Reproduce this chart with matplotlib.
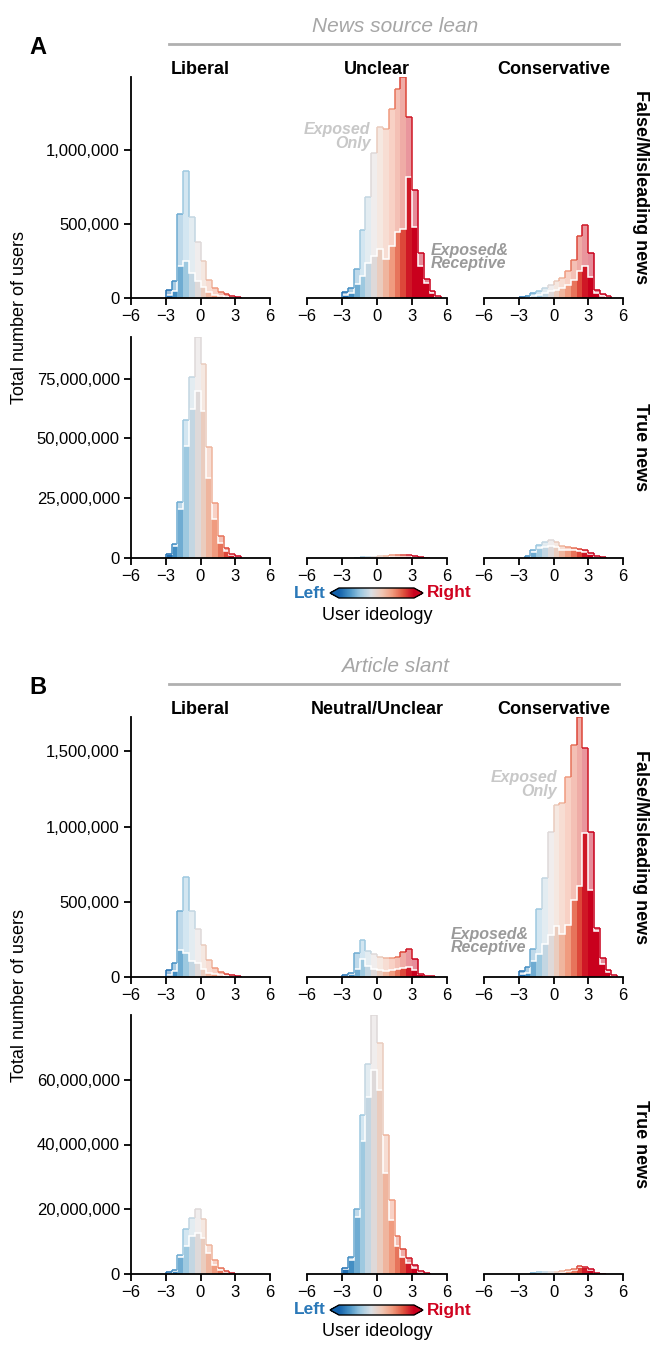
import numpy as np
import matplotlib.pyplot as plt
from matplotlib.colors import LinearSegmentedColormap, Normalize
from matplotlib.collections import LineCollection
from matplotlib.ticker import FuncFormatter
import matplotlib as mpl

plt.rcParams['font.family'] = ['Liberation Sans', 'DejaVu Sans']

W, H = 653, 1346

# ideology bins (left edges ... last right edge)
bin_edges = [-3.0, -2.5, -2.0, -1.5, -1.0, -0.5, 0.0, 0.5, 1.0, 1.5,
             2.0, 2.5, 3.0, 3.5, 4.0, 4.5, 5.0, 5.5]

col_names_a = ["Liberal", "Unclear", "Conservative"]
col_names_b = ["Liberal", "Neutral/Unclear", "Conservative"]
row_names = ["False/Misleading news", "True news"]

# ---- panel A: news source lean ----  (false rows in thousands, true rows in millions)
a_false_total = [
    [56, 112, 565, 856, 549, 379, 247, 123, 67, 40, 27, 16, 7, 0, 0, 0, 0],
    [40, 67, 197, 460, 679, 980, 1155, 1143, 1278, 1413, 1491, 1222, 729, 303, 125, 45, 16],
    [7, 16, 34, 49, 67, 85, 112, 135, 179, 258, 415, 493, 303, 56, 27, 11, 0],
]
a_false_recept = [
    [22, 49, 213, 251, 168, 112, 74, 38, 22, 16, 9, 4, 2, 0, 0, 0, 0],
    [22, 34, 96, 146, 235, 280, 330, 262, 348, 442, 464, 814, 482, 213, 100, 35, 10],
    [2, 7, 13, 22, 34, 45, 56, 70, 90, 123, 179, 217, 139, 34, 11, 4, 0],
]
a_true_total = [
    [1.8, 6.0, 23.6, 57.6, 75.7, 92.4, 81.3, 46.5, 22.9, 9.4, 4.3, 1.8, 0.7, 0, 0, 0, 0],
    [0, 0, 0.2, 0.3, 0.4, 0.6, 0.8, 1.0, 1.1, 1.3, 1.4, 1.3, 1.0, 0.4, 0.1, 0, 0],
    [0, 1.0, 3.5, 5.5, 6.8, 7.5, 6.5, 5.0, 4.5, 4.2, 3.8, 3.2, 2.0, 0.8, 0.3, 0, 0],
]
a_true_recept = [
    [1.5, 5.0, 20.6, 46.7, 62.2, 69.9, 61.3, 33.3, 16.4, 6.3, 2.9, 1.1, 0.4, 0, 0, 0, 0],
    [0, 0, 0.1, 0.2, 0.25, 0.4, 0.5, 0.6, 0.7, 0.8, 0.9, 0.8, 0.6, 0.25, 0.05, 0, 0],
    [0, 0.8, 2.5, 4.0, 4.8, 5.2, 4.4, 3.5, 3.2, 3.2, 3.0, 2.6, 1.6, 0.6, 0.2, 0, 0],
]

# ---- panel B: article slant ----
b_false_total = [
    [49, 93, 436, 667, 440, 318, 211, 111, 60, 31, 20, 11, 7, 0, 0, 0, 0],
    [11, 29, 158, 244, 173, 151, 133, 129, 129, 136, 169, 189, 118, 22, 9, 4, 0],
    [40, 67, 189, 451, 658, 962, 1147, 1156, 1329, 1540, 1729, 1522, 967, 329, 124, 44, 13],
]
b_false_recept = [
    [11, 40, 182, 160, 104, 93, 56, 27, 18, 11, 7, 4, 0, 0, 0, 0, 0],
    [7, 18, 51, 118, 73, 56, 44, 40, 44, 51, 62, 69, 44, 18, 7, 0, 0],
    [18, 29, 107, 151, 218, 278, 338, 284, 347, 511, 602, 958, 578, 307, 84, 36, 7],
]
b_true_total = [
    [0.5, 1.1, 5.9, 13.8, 17.2, 20.2, 17.0, 9.0, 4.2, 1.8, 0.8, 0.4, 0, 0, 0, 0, 0],
    [1.7, 5.1, 20.1, 49.0, 64.9, 80.0, 71.4, 42.9, 22.9, 11.8, 7.7, 4.9, 2.7, 0.8, 0.3, 0, 0],
    [0, 0, 0.3, 0.6, 0.7, 0.6, 0.7, 0.9, 1.2, 1.6, 2.5, 2.3, 1.4, 0.4, 0.1, 0, 0],
]
b_true_recept = [
    [0.3, 0.8, 5.1, 8.7, 11.6, 12.8, 11.0, 6.5, 2.9, 1.1, 0.5, 0.2, 0, 0, 0, 0, 0],
    [1.5, 4.2, 17.5, 41.1, 54.7, 62.9, 56.7, 31.1, 16.7, 8.5, 5.1, 3.4, 1.8, 0.5, 0.1, 0, 0],
    [0, 0, 0.2, 0.4, 0.5, 0.4, 0.5, 0.6, 0.9, 1.3, 2.2, 2.1, 1.1, 0.3, 0.05, 0, 0],
]

cmap = LinearSegmentedColormap.from_list(
    "lr", ["#1261ab", "#4a94c6", "#9cc8e0", "#d9dee3", "#efc7b4", "#f09a7d",
           "#e0543f", "#c9001d"])
norm = Normalize(-3, 3)


def fig_box(x0, y0, x1, y1):
    return [x0 / W, 1 - y1 / H, (x1 - x0) / W, (y1 - y0) / H]


def draw_hist(ax, total, recept):
    edges = np.array(bin_edges)
    left, right = edges[:-1], edges[1:]
    total = np.array(total, dtype=float)
    recept = np.array(recept, dtype=float)
    cols = cmap(norm((left + right) / 2))
    ax.bar(left, total, width=right - left, align='edge', color=cols,
           alpha=0.45, linewidth=0)
    pad = np.concatenate([[0], total, [0]])
    segs, segc = [], []
    for i, h in enumerate(total):
        if h <= 0:
            continue
        segs.append([(left[i], h), (right[i], h)])
        segc.append(cols[i])
        if h > pad[i]:
            segs.append([(left[i], pad[i]), (left[i], h)])
            segc.append(cols[i])
        if h > pad[i + 2]:
            segs.append([(right[i], pad[i + 2]), (right[i], h)])
            segc.append(cols[i])
    ax.add_collection(LineCollection(segs, colors=segc, linewidths=1.3, alpha=0.85))
    ax.bar(left, recept, width=right - left, align='edge', color=cols, linewidth=0)
    ax.stairs(recept, edges, color='white', linewidth=1.1)


fig = plt.figure(figsize=(W / 100, H / 100), dpi=100)

col_x = [(131, 270), (307, 447), (484, 623)]
panels = [
    dict(rows=[(77, 298), (337, 558)], data=[(a_false_total, a_false_recept, 1e3),
                                             (a_true_total, a_true_recept, 1e6)],
         yticks=[[0, 500000, 1000000], [0, 25000000, 50000000, 75000000]],
         cols=col_names_a, letter="A", header="News source lean",
         header_y=27, line_y=44, title_y=70, letter_y=48, cbar_y=593, xlabel_y=616),
    dict(rows=[(717, 977), (1015, 1274)], data=[(b_false_total, b_false_recept, 1e3),
                                                (b_true_total, b_true_recept, 1e6)],
         yticks=[[0, 500000, 1000000, 1500000], [0, 20000000, 40000000, 60000000]],
         cols=col_names_b, letter="B", header="Article slant",
         header_y=667, line_y=684, title_y=710, letter_y=688, cbar_y=1310, xlabel_y=1332),
]

fmt = FuncFormatter(lambda v, p: f"{int(v):,}")
axes_store = {}

for pi, p in enumerate(panels):
    for ri, (y0, y1) in enumerate(p["rows"]):
        tot, rec, scale = p["data"][ri]
        ymax = max(max(t) for t in tot) * scale
        for ci, (x0, x1) in enumerate(col_x):
            ax = fig.add_axes(fig_box(x0, y0, x1, y1))
            ax.patch.set_visible(False)
            draw_hist(ax, np.array(tot[ci]) * scale, np.array(rec[ci]) * scale)
            ax.set_xlim(-6, 6)
            ax.set_ylim(0, ymax)
            ax.set_xticks([-6, -3, 0, 3, 6])
            for s in ["top", "right"]:
                ax.spines[s].set_visible(False)
            ax.spines["bottom"].set_linewidth(1.3)
            ax.spines["left"].set_linewidth(1.3)
            ax.tick_params(labelsize=12, length=5, width=1.3, pad=3)
            if ci == 0:
                ax.set_yticks(p["yticks"][ri])
                ax.yaxis.set_major_formatter(fmt)
            else:
                ax.spines["left"].set_visible(False)
                ax.tick_params(left=False, labelleft=False)
            axes_store[(pi, ri, ci)] = ax
        # row label on the right
        fig.text(640 / W, 1 - (y0 + y1) / 2 / H, row_names[ri], rotation=270,
                 ha="center", va="center", fontsize=13, fontweight="bold")

    # column titles
    for ci, (x0, x1) in enumerate(col_x):
        fig.text((x0 + x1) / 2 / W, 1 - p["title_y"] / H, p["cols"][ci],
                 ha="center", va="center", fontsize=13, fontweight="bold")
    # header and line
    fig.text(395 / W, 1 - p["header_y"] / H, p["header"], ha="center", va="center",
             fontsize=15, style="italic", color="#a6a6a6")
    fig.add_artist(plt.Line2D([169 / W, 619 / W], [1 - p["line_y"] / H] * 2,
                              color="#b0b0b0", linewidth=2))
    fig.text(38 / W, 1 - p["letter_y"] / H, p["letter"], ha="center", va="center",
             fontsize=17, fontweight="bold")
    # y label
    ymid = (p["rows"][0][0] + p["rows"][1][1]) / 2
    fig.text(20 / W, 1 - ymid / H, "Total number of users", rotation=90,
             ha="center", va="center", fontsize=13)
    # colour legend
    cax = fig.add_axes(fig_box(330, p["cbar_y"] - 5, 423, p["cbar_y"] + 5))
    cb = mpl.colorbar.ColorbarBase(cax, cmap=cmap, norm=norm, orientation="horizontal",
                                   extend="both", extendfrac=0.12)
    cb.set_ticks([])
    cb.outline.set_linewidth(1.0)
    fig.text(326 / W, 1 - p["cbar_y"] / H, "Left", ha="right", va="center",
             fontsize=12.5, fontweight="bold", color="#2a78b8")
    fig.text(427 / W, 1 - p["cbar_y"] / H, "Right", ha="left", va="center",
             fontsize=12.5, fontweight="bold", color="#d0021f")
    fig.text(377 / W, 1 - p["xlabel_y"] / H, "User ideology", ha="center", va="center",
             fontsize=13)

# annotations
ann = dict(fontsize=11.5, fontweight="bold", style="italic", linespacing=0.9,
           zorder=10, clip_on=False)
ax = axes_store[(0, 0, 1)]
ax.text(-0.57, 1090000, "Exposed\nOnly", ha="right", va="center", color="#c8c8c8", **ann)
ax.text(4.6, 277000, "Exposed&\nReceptive", ha="left", va="center", color="#9a9a9a", **ann)
ax = axes_store[(1, 0, 2)]
ax.text(0.29, 1280000, "Exposed\nOnly", ha="right", va="center", color="#c8c8c8", **ann)
ax.text(-8.9, 240000, "Exposed&\nReceptive", ha="left", va="center", color="#9a9a9a", **ann)

fig.savefig("out.png", dpi=100)
